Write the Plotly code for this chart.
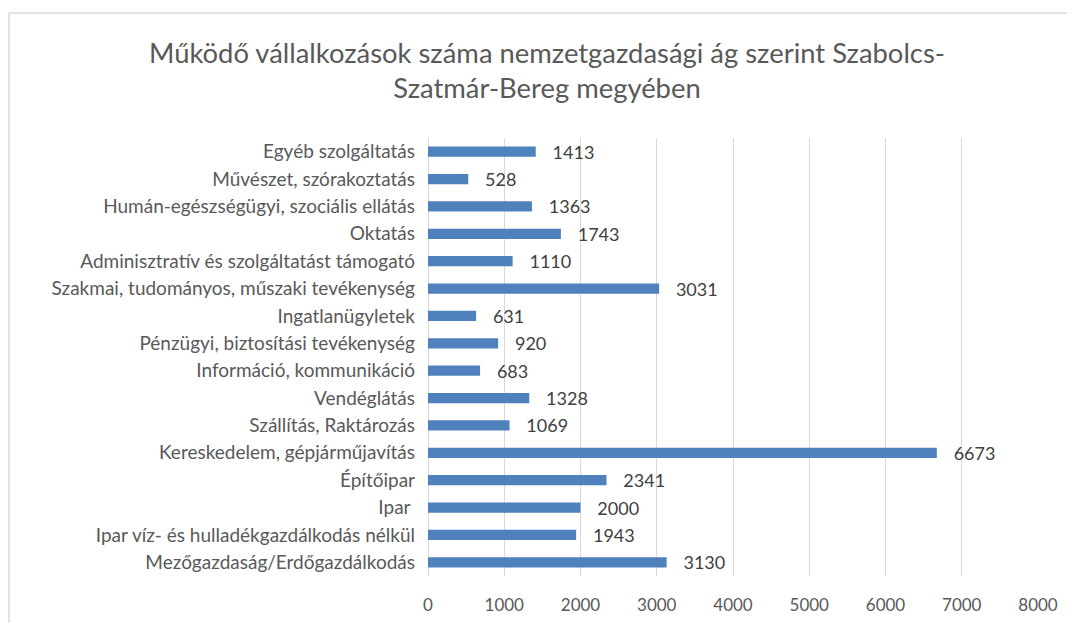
import plotly.graph_objects as go

categories = [
    "Egyéb szolgáltatás",
    "Művészet, szórakoztatás",
    "Humán-egészségügyi, szociális ellátás",
    "Oktatás",
    "Adminisztratív és szolgáltatást támogató",
    "Szakmai, tudományos, műszaki tevékenység",
    "Ingatlanügyletek",
    "Pénzügyi, biztosítási tevékenység",
    "Információ, kommunikáció",
    "Vendéglátás",
    "Szállítás, Raktározás",
    "Kereskedelem, gépjárműjavítás",
    "Építőipar",
    "Ipar ",
    "Ipar víz- és hulladékgazdálkodás nélkül",
    "Mezőgazdaság/Erdőgazdálkodás",
]
values = [1413, 528, 1363, 1743, 1110, 3031, 631, 920, 683, 1328, 1069, 6673, 2341, 2000, 1943, 3130]
x_ticks = [0, 1000, 2000, 3000, 4000, 5000, 6000, 7000, 8000]

title_text = "Működő vállalkozások száma nemzetgazdasági ág szerint Szabolcs-<br>Szatmár-Bereg megyében"

FONT = "Lato"
TEXT_GRAY = "#595959"

W, H = 1075, 623
L, R, T, B = 420, 45, 130, 55
PW, PH = W - L - R, H - T - B

fig = go.Figure()
fig.add_trace(go.Bar(
    y=categories,
    x=values,
    orientation="h",
    marker=dict(color="#4F81BD", line=dict(width=0)),
    text=values,
    texttemplate="   %{x}",
    textposition="outside",
    constraintext="none",
    textfont=dict(family=FONT, size=18, color="#404040"),
    cliponaxis=False,
))

fig.update_layout(
    width=W,
    height=H,
    paper_bgcolor="white",
    plot_bgcolor="white",
    margin=dict(l=L, r=R, t=T, b=B, autoexpand=False),
    bargap=0.63,
    showlegend=False,
    title=dict(
        text=title_text,
        x=0.5014,
        xref="container",
        xanchor="center",
        y=0.912,
        yref="container",
        yanchor="top",
        font=dict(family=FONT, size=27.4, color=TEXT_GRAY),
    ),
    xaxis=dict(
        range=[0, 8000],
        tickvals=x_ticks,
        showgrid=True,
        gridcolor="#D9D9D9",
        gridwidth=1,
        zeroline=True,
        zerolinecolor="#D9D9D9",
        zerolinewidth=1,
        showline=False,
        ticks="",
        ticklabelstandoff=17,
        automargin=False,
        tickfont=dict(family=FONT, size=17, color=TEXT_GRAY),
        fixedrange=True,
    ),
    yaxis=dict(
        autorange="reversed",
        showgrid=False,
        zeroline=False,
        showline=False,
        ticks="",
        ticklabelstandoff=12,
        automargin=False,
        tickfont=dict(family=FONT, size=19, color=TEXT_GRAY),
        fixedrange=True,
    ),
    shapes=[dict(
        type="rect",
        xref="paper", yref="paper",
        x0=(1 - L) / PW, x1=1.2,
        y0=-0.3, y1=(H - B - 5) / PH,
        line=dict(color="#D9D9D9", width=1.5),
        fillcolor="rgba(0,0,0,0)",
        layer="below",
    )],
)

fig.write_html("out.html")
